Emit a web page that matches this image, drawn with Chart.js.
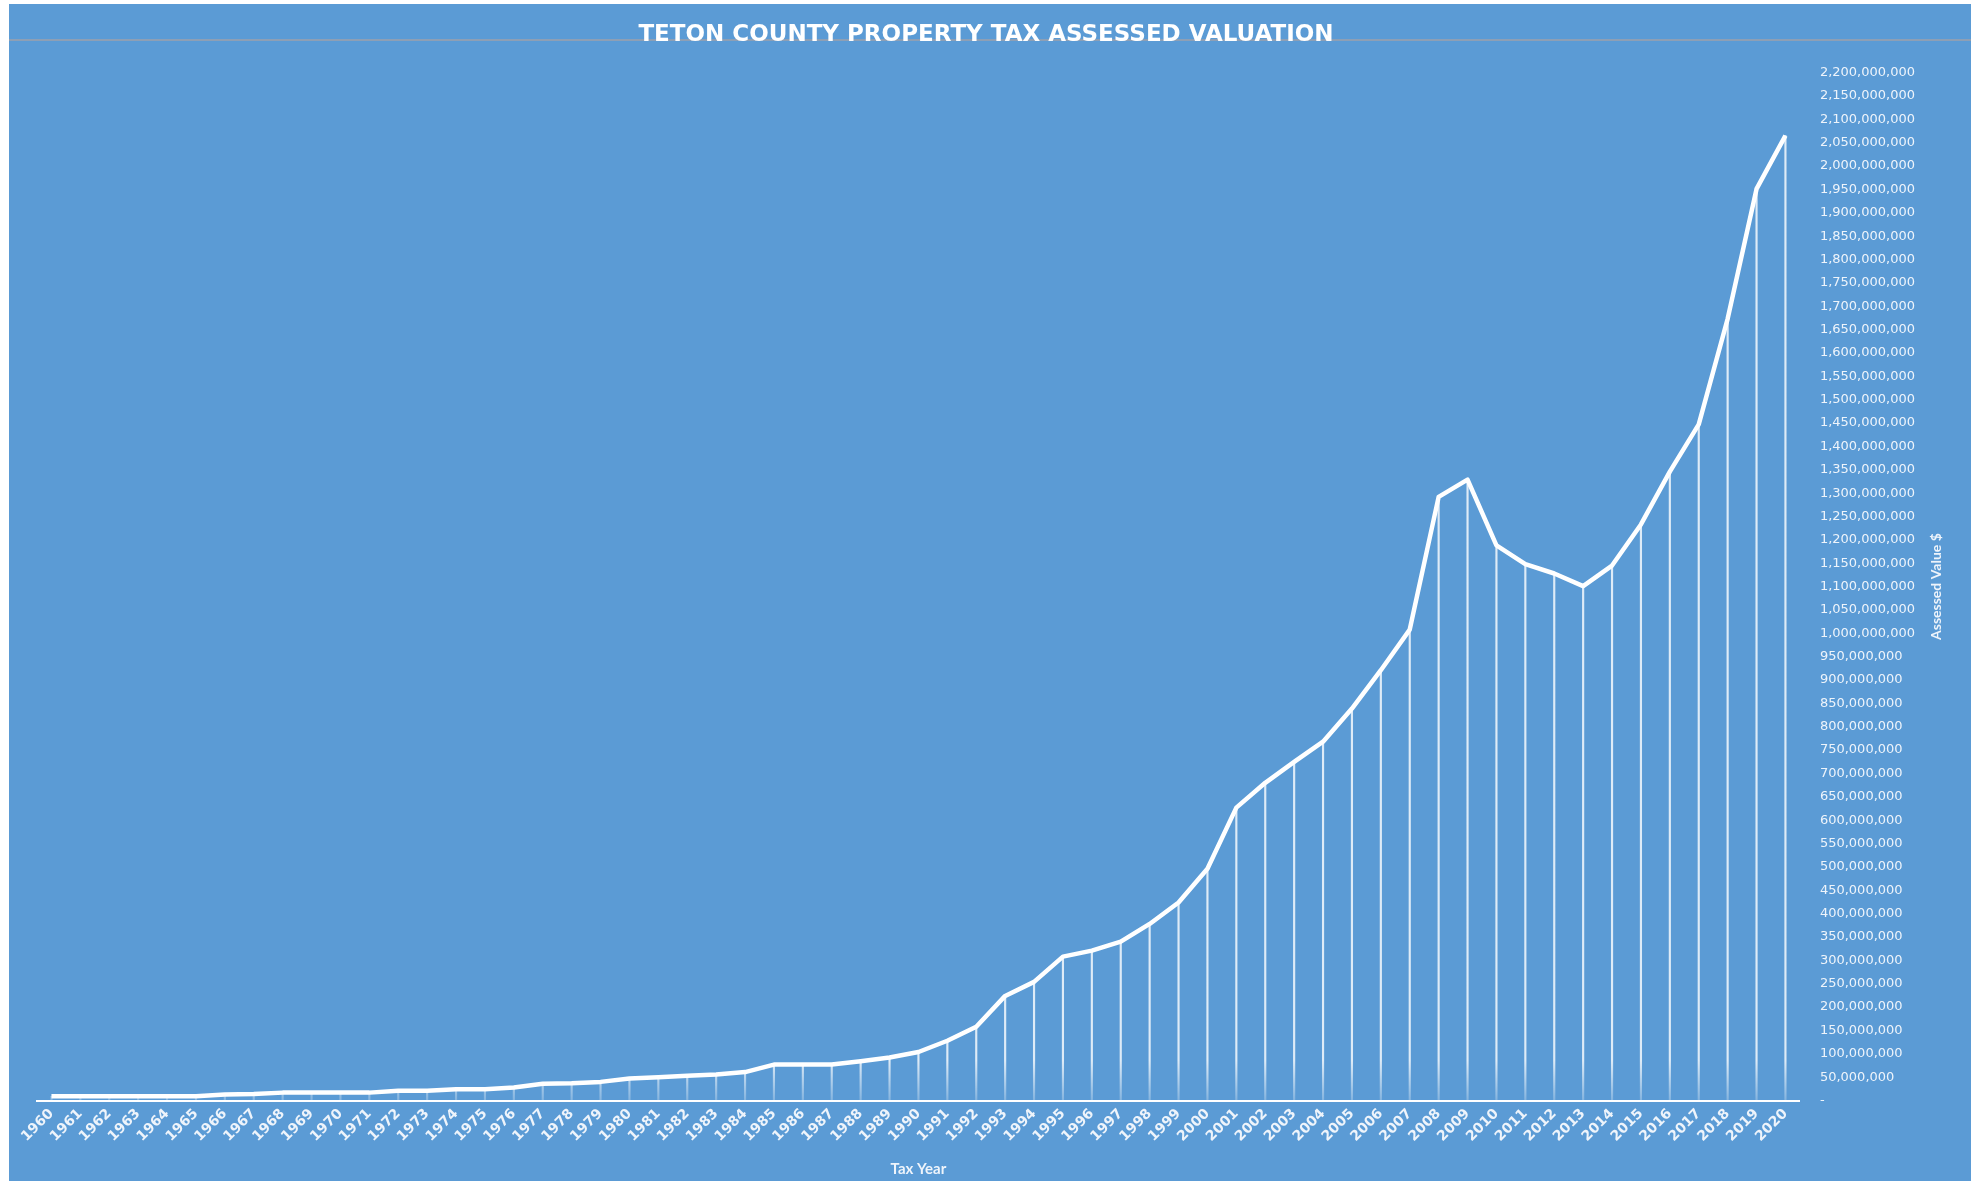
<!DOCTYPE html>
<html>
<head>
<meta charset="utf-8">
<title>Teton County Property Tax Assessed Valuation</title>
<script src="https://cdn.jsdelivr.net/npm/chart.js@4/dist/chart.umd.min.js"></script>
<style>
  html, body { margin: 0; padding: 0; background: #ffffff; }
  #wrap {
    position: absolute; left: 9px; top: 4px;
    width: 1962px; height: 1177px;
    background: #5b9bd5;
  }
</style>
</head>
<body>
<div id="wrap"><canvas id="valuation-chart"></canvas></div>
<script>
// ---------------- data ----------------
var taxYears = [
  '1960', '1961', '1962', '1963', '1964', '1965', '1966', '1967', '1968', '1969',
  '1970', '1971', '1972', '1973', '1974', '1975', '1976', '1977', '1978', '1979',
  '1980', '1981', '1982', '1983', '1984', '1985', '1986', '1987', '1988', '1989',
  '1990', '1991', '1992', '1993', '1994', '1995', '1996', '1997', '1998', '1999',
  '2000', '2001', '2002', '2003', '2004', '2005', '2006', '2007', '2008', '2009',
  '2010', '2011', '2012', '2013', '2014', '2015', '2016', '2017', '2018', '2019',
  '2020'
];

// assessed value in dollars
var assessedValue = [
  9000000, 9000000, 9000000, 9000000, 9000000, 9000000, 13000000, 14000000, 17000000, 17000000,
  17000000, 17000000, 21000000, 21000000, 24000000, 24000000, 28000000, 36000000, 37000000, 40000000,
  47000000, 50000000, 53000000, 56000000, 61000000, 77000000, 77000000, 77000000, 84000000, 92000000,
  104000000, 128000000, 158000000, 224000000, 254000000, 308000000, 321000000, 340000000, 378000000, 424000000,
  496000000, 627000000, 680000000, 725000000, 768000000, 839000000, 921000000, 1008000000, 1292000000, 1329000000,
  1188000000, 1148000000, 1128000000, 1101000000, 1145000000, 1233000000, 1346000000, 1447000000, 1673000000, 1951000000,
  2065000000
];

var yAxisMin = 0;
var yAxisMax = 2200000000;
var yAxisStep = 50000000;

var chartTitle = 'TETON COUNTY PROPERTY TAX ASSESSED VALUATION';
var xAxisTitle = 'Tax Year';
var yAxisTitle = 'Assessed Value $';

// ---------------- chart ----------------
var labelColor = '#eef4fb';

// thin grey rule running under the title
var headerRule = {
  id: 'headerRule',
  beforeDraw: function (chart) {
    var ctx = chart.ctx;
    ctx.save();
    ctx.strokeStyle = '#8d9fb5';
    ctx.lineWidth = 2;
    ctx.beginPath();
    ctx.moveTo(0, 36);
    ctx.lineTo(chart.width, 36);
    ctx.stroke();
    ctx.restore();
  }
};

// right axis title, reading bottom to top like the original
var rightAxisTitle = {
  id: 'rightAxisTitle',
  afterDraw: function (chart) {
    var ctx = chart.ctx;
    var area = chart.chartArea;
    ctx.save();
    ctx.translate(chart.scales.y.right + 1, (area.top + area.bottom) / 2);
    ctx.rotate(-Math.PI / 2);
    ctx.fillStyle = labelColor;
    ctx.font = 'bold 14px Lato';
    ctx.textAlign = 'center';
    ctx.textBaseline = 'middle';
    ctx.fillText(yAxisTitle, 0, 0);
    ctx.restore();
  }
};

function dropLineColor(context) {
  var area = context.chart.chartArea;
  if (!area) return 'rgba(255,255,255,0.8)';
  var g = context.chart.ctx.createLinearGradient(0, area.bottom - 40, 0, area.bottom);
  g.addColorStop(0, 'rgba(255,255,255,0.8)');
  g.addColorStop(1, 'rgba(255,255,255,0.25)');
  return g;
}

var options = {
  responsive: true,
  maintainAspectRatio: false,
  animation: false,
  layout: {
    padding: { left: 28, right: 36, top: 0, bottom: 0 }
  },
  plugins: {
    legend: { display: false },
    tooltip: { enabled: false },
    title: {
      display: true,
      text: chartTitle,
      color: '#ffffff',
      font: { family: 'DejaVu Sans', size: 23, weight: 'bold' },
      padding: { top: 17, bottom: 24 }
    }
  },
  scales: {
    x: {
      offset: true,
      grid: { display: false, drawTicks: false },
      border: { display: true, color: '#ffffff', width: 2 },
      ticks: {
        color: labelColor,
        autoSkip: false,
        maxRotation: 45,
        minRotation: 45,
        padding: 5,
        font: { family: 'DejaVu Sans', size: 14, weight: 'bold' }
      },
      title: {
        display: true,
        text: xAxisTitle,
        color: labelColor,
        font: { family: 'Lato', size: 15, weight: 'bold' },
        padding: { top: 10, bottom: 3 }
      }
    },
    y: {
      position: 'right',
      min: yAxisMin,
      max: yAxisMax,
      grid: { display: false, drawTicks: false },
      border: { display: false },
      ticks: {
        stepSize: yAxisStep,
        autoSkip: false,
        color: labelColor,
        padding: 20,
        font: { family: 'DejaVu Sans', size: 13 },
        callback: function (value) {
          return value === 0 ? '-' : value.toLocaleString('en-US');
        }
      }
    }
  }
};

var chart = new Chart(document.getElementById('valuation-chart'), {
  data: {
    labels: taxYears,
    datasets: [
      {
        type: 'line',
        label: 'Assessed Value',
        data: assessedValue,
        borderColor: '#ffffff',
        borderWidth: 4.5,
        pointRadius: 0,
        tension: 0,
        borderJoinStyle: 'round',
        order: 0
      },
      {
        // drop lines from each point to the axis
        type: 'bar',
        label: 'Drop lines',
        data: assessedValue,
        backgroundColor: dropLineColor,
        barThickness: 1.5,
        order: 1
      }
    ]
  },
  options: options,
  plugins: [headerRule, rightAxisTitle]
});
</script>
</body>
</html>
